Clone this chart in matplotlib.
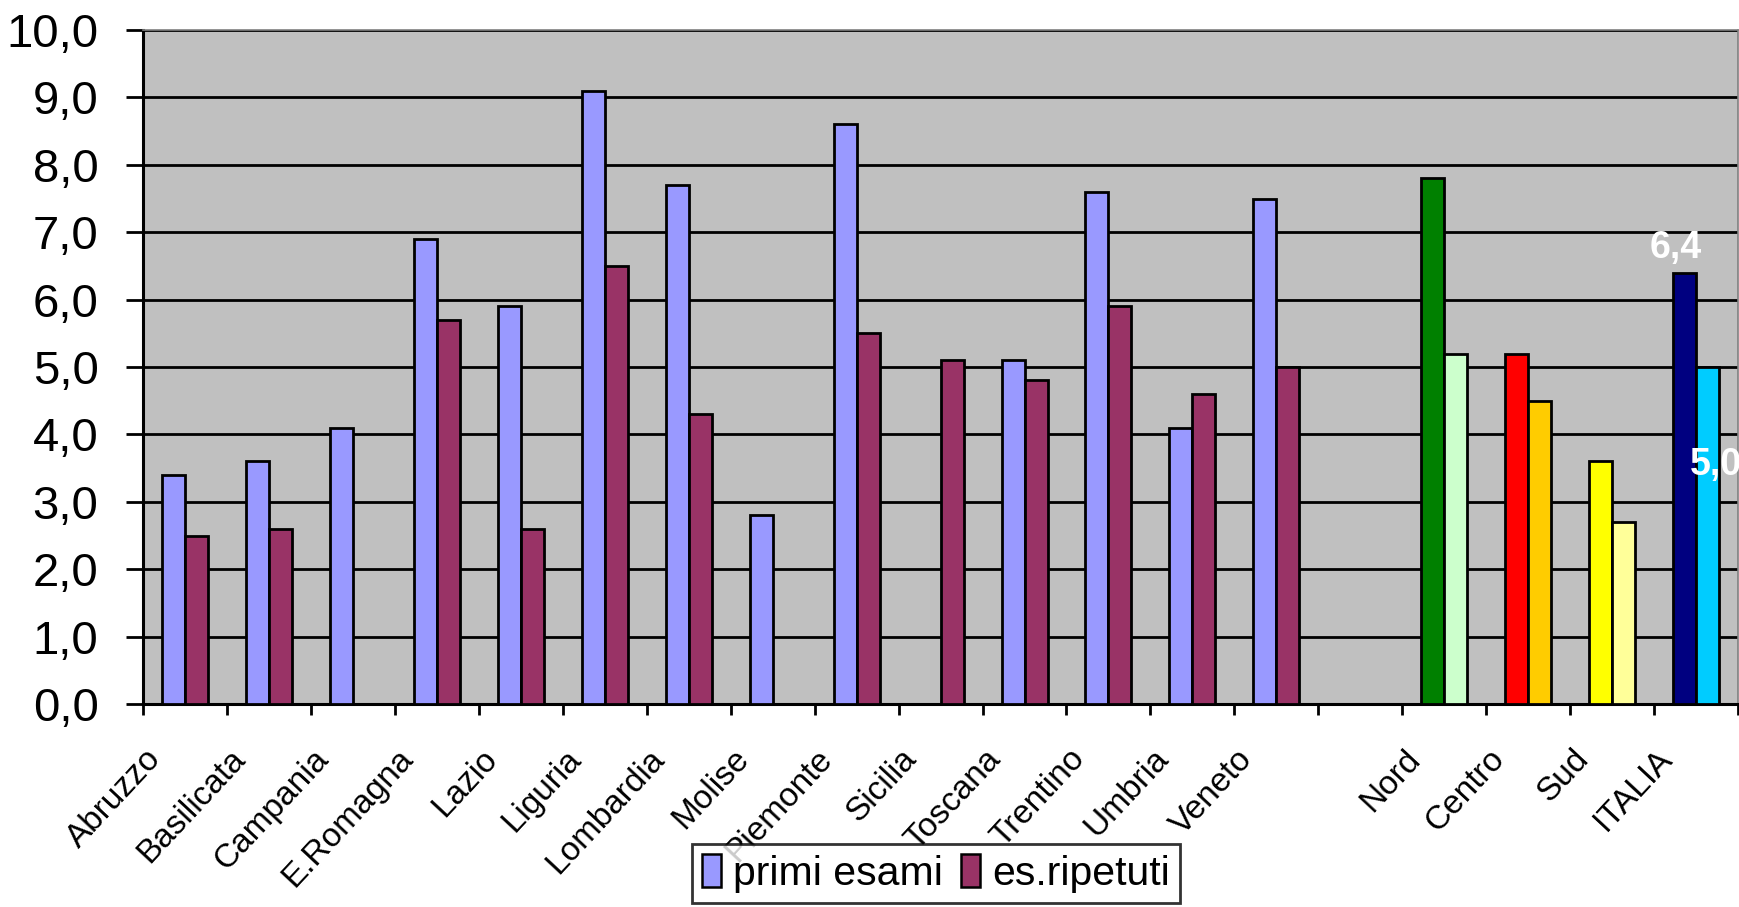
import numpy as np
import matplotlib
matplotlib.use('Agg')
import matplotlib.pyplot as plt
from matplotlib.patches import Rectangle
from matplotlib.transforms import ScaledTranslation

plt.rcParams['font.family'] = ['Liberation Sans', 'DejaVu Sans']

categories = ['Abruzzo', 'Basilicata', 'Campania', 'E.Romagna', 'Lazio', 'Liguria',
              'Lombardia', 'Molise', 'Piemonte', 'Sicilia', 'Toscana', 'Trentino',
              'Umbria', 'Veneto', '', 'Nord', 'Centro', 'Sud', 'ITALIA']
primi_esami = [3.4, 3.6, 4.1, 6.9, 5.9, 9.1, 7.7, 2.8, 8.6, np.nan, 5.1, 7.6,
               4.1, 7.5, np.nan, 7.8, 5.2, 3.6, 6.4]
es_ripetuti = [2.5, 2.6, np.nan, 5.7, 2.6, 6.5, 4.3, np.nan, 5.5, 5.1, 4.8, 5.9,
               4.6, 5.0, np.nan, 5.2, 4.5, 2.7, 5.0]
yticks = np.arange(0, 11, 1)

# colours: regions share two colours, the area groups get their own pair
c_primi = ['#9999FF'] * 15 + ['#008000', '#FF0000', '#FFFF00', '#000080']
c_rip = ['#993366'] * 15 + ['#CCFFCC', '#FFCC00', '#FFFF99', '#00CCFF']

fig = plt.figure(figsize=(17.4, 9.07), dpi=100)
ax = fig.add_axes([0.0822, 0.2238, 0.9167, 0.7431])
ax.set_facecolor('#C0C0C0')

x = np.arange(len(categories))
w = 0.274
ax.bar(x - w / 2, primi_esami, w, color=c_primi, edgecolor='black', linewidth=2, zorder=3)
ax.bar(x + w / 2, es_ripetuti, w, color=c_rip, edgecolor='black', linewidth=2, zorder=3)

ax.set_xlim(-0.5, len(categories) - 0.5)
ax.set_ylim(0, 10)
ax.set_yticks(yticks)
ax.set_yticklabels([('%.1f' % v).replace('.', ',') for v in yticks], fontsize=34)
ax.yaxis.grid(True, color='black', linewidth=2, zorder=1)
ax.set_axisbelow(True)
ax.tick_params(axis='y', length=12, width=2, pad=20)

ax.set_xticks(np.arange(-0.5, len(categories), 1))
ax.set_xticklabels([])
ax.tick_params(axis='x', which='major', length=8, width=2)
ax.set_xticks(x, minor=True)
ax.set_xticklabels(categories, minor=True, rotation=47, ha='right', va='center',
                   rotation_mode='anchor', fontsize=24)
ax.tick_params(axis='x', which='minor', length=0, pad=36)
off = ScaledTranslation(-0.29, 0, fig.dpi_scale_trans)
for lab in ax.get_xticklabels(minor=True):
    lab.set_transform(lab.get_transform() + off)

for s in ['left', 'bottom']:
    ax.spines[s].set_linewidth(2.2)
    ax.spines[s].set_color('black')
for s in ['top', 'right']:
    ax.spines[s].set_linewidth(1.2)
    ax.spines[s].set_color('#808080')

# data labels on ITALIA
i = len(categories) - 1
ax.text(x[i] - w / 2 - 0.1, primi_esami[i] + 0.37, '6,4', color='white', fontsize=27,
        fontweight='bold', ha='center', va='center', zorder=4)
ax.text(x[i] + w / 2 + 0.1, es_ripetuti[i] - 1.45, '5,0', color='white', fontsize=27,
        fontweight='bold', ha='center', va='center', zorder=4, clip_on=False)

handles = [Rectangle((0, 0), 1, 1, facecolor='#9999FF', edgecolor='black', linewidth=1.8),
           Rectangle((0, 0), 1, 1, facecolor='#993366', edgecolor='black', linewidth=1.8)]
leg = fig.legend(handles, ['primi esami', 'es.ripetuti'], loc='upper left',
                 bbox_to_anchor=(0.3977, 0.0695), ncol=2, fontsize=29.5, frameon=True,
                 fancybox=False, edgecolor='black', handlelength=0.45, handleheight=0.85,
                 handletextpad=0.3, columnspacing=0.45, borderpad=0.25, borderaxespad=0)
leg.get_frame().set_linewidth(2)

fig.savefig('out.png', dpi=100)
